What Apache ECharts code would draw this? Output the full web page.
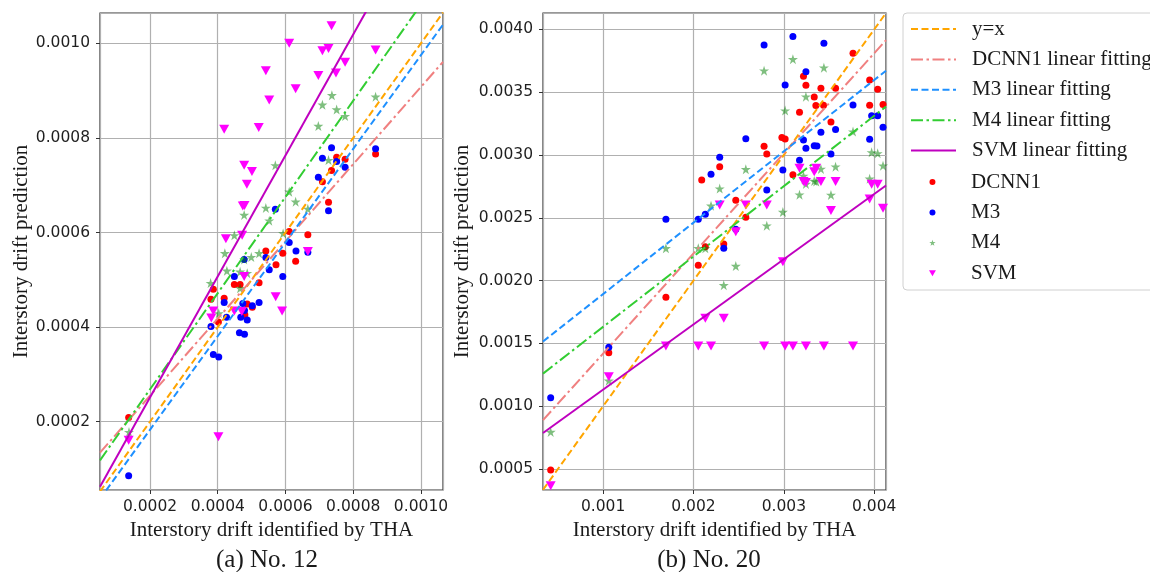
<!DOCTYPE html>
<html><head><meta charset="utf-8">
<script src="https://cdn.jsdelivr.net/npm/echarts@6/dist/echarts.min.js"></script>
<style>html,body{margin:0;padding:0;background:#fff}#c{width:1150px;height:572px}</style>
</head><body><div id="c"></div>
<script>
// ---------- axis ranges ----------
const xRange12 = [0.0000524, 0.001065];
const yRange12 = [0.0000556, 0.001064];
const xRange20 = [0.000335, 0.00413];
const yRange20 = [0.000333, 0.00413];

// ---------- linear fits (slope, intercept) ----------
const fitNames = ['y=x', 'DCNN1 linear fitting', 'M3 linear fitting', 'M4 linear fitting', 'SVM linear fitting'];
const fitSlope12 = [1, 0.816, 0.99, 1.017, 1.279];
const fitIntercept12 = [0, 0.0000917, -0.000015, 0.000065, -0.0000044];
const fitSlope20 = [1, 0.797, 0.568, 0.56, 0.519];
const fitIntercept20 = [0, 0.000622, 0.001325, 0.001072, 0.000613];

// ---------- scatter data: No. 12 ----------
const scatterNames = ['DCNN1', 'M3', 'M4', 'SVM'];
const dcnn1_12 = [[0.000736,0.000731],[0.000751,0.000759],[0.000776,0.000755],[0.000709,0.000707],[0.000727,0.000664],[0.000866,0.000766],[0.000611,0.000602],[0.000666,0.000595],[0.000542,0.000561],[0.000592,0.000556],[0.00063,0.000539],[0.000572,0.000532],[0.000387,0.00048],[0.00038,0.000459],[0.000419,0.000461],[0.000449,0.00049],[0.000466,0.00049],[0.000522,0.000494],[0.000487,0.000449],[0.000502,0.000442],[0.00048,0.000426],[0.000402,0.000411],[0.000137,0.000209]];
const m3_12 = [[0.000736,0.000779],[0.000709,0.000757],[0.000751,0.00075],[0.000776,0.000738],[0.000697,0.000717],[0.000727,0.000646],[0.000866,0.000777],[0.00057,0.000649],[0.000611,0.000579],[0.000631,0.000561],[0.000666,0.000558],[0.000542,0.000547],[0.000552,0.000521],[0.000592,0.000507],[0.000449,0.000507],[0.000478,0.000543],[0.000419,0.000452],[0.000426,0.000421],[0.000474,0.00045],[0.000479,0.000435],[0.000468,0.000421],[0.000487,0.000415],[0.000502,0.000445],[0.000522,0.000452],[0.000464,0.000388],[0.000479,0.000385],[0.000387,0.000342],[0.000403,0.000337],[0.00038,0.000401],[0.000137,0.0000858]];
const m4_12 = [[0.000709,0.00087],[0.000737,0.00089],[0.000751,0.00086],[0.000776,0.000846],[0.000697,0.000825],[0.000866,0.000887],[0.00057,0.000742],[0.000727,0.000753],[0.000611,0.000686],[0.00063,0.000665],[0.000542,0.000652],[0.000552,0.000625],[0.000666,0.00065],[0.000478,0.000637],[0.000449,0.000594],[0.000421,0.000556],[0.000427,0.000519],[0.000478,0.000543],[0.000499,0.000548],[0.000522,0.000556],[0.000593,0.000598],[0.000379,0.000493],[0.000466,0.000517],[0.000487,0.000514],[0.000466,0.000482],[0.000403,0.000429],[0.000138,0.000178]];
const svm_12 = [[0.000419,0.000818],[0.000542,0.000942],[0.000552,0.00088],[0.000521,0.000822],[0.000611,0.0010],[0.00063,0.000904],[0.000736,0.001037],[0.000709,0.000984],[0.000727,0.000989],[0.000776,0.00096],[0.000697,0.000932],[0.000749,0.000937],[0.000866,0.000986],[0.000478,0.000742],[0.000501,0.000729],[0.000486,0.000702],[0.000474,0.000656],[0.000479,0.000657],[0.000424,0.000587],[0.000472,0.000594],[0.000666,0.00056],[0.000478,0.000507],[0.000571,0.000464],[0.00059,0.000434],[0.000387,0.000434],[0.000381,0.000419],[0.000449,0.000434],[0.000471,0.000433],[0.000402,0.000168],[0.000137,0.000161]];

// ---------- scatter data: No. 20 ----------
const dcnn1_20 = [[0.00042,0.000492],[0.001063,0.001426],[0.001695,0.001867],[0.002053,0.002122],[0.002091,0.002801],[0.00229,0.002907],[0.002131,0.00227],[0.002335,0.002291],[0.002468,0.002639],[0.002579,0.002504],[0.002781,0.003069],[0.002811,0.003008],[0.002978,0.003138],[0.003014,0.003127],[0.0031,0.002843],[0.003173,0.00334],[0.003217,0.003627],[0.003244,0.003555],[0.003336,0.003462],[0.003354,0.003393],[0.00341,0.003531],[0.003439,0.003396],[0.003572,0.003531],[0.003521,0.003263],[0.003765,0.00381],[0.003949,0.003597],[0.003949,0.003396],[0.004038,0.003523],[0.004097,0.003401]];
const m3_20 = [[0.00042,0.001068],[0.001063,0.001469],[0.001695,0.002488],[0.002053,0.002488],[0.002131,0.002528],[0.002194,0.002846],[0.00229,0.002982],[0.002335,0.002257],[0.002468,0.002408],[0.002579,0.00313],[0.002781,0.003876],[0.002811,0.002721],[0.003014,0.003557],[0.002989,0.002881],[0.0031,0.003942],[0.003173,0.002958],[0.003217,0.003119],[0.003244,0.003663],[0.003244,0.003053],[0.003336,0.003074],[0.003366,0.003072],[0.00341,0.003181],[0.003443,0.003889],[0.003521,0.003008],[0.003572,0.003202],[0.003765,0.003398],[0.003949,0.003125],[0.003971,0.003313],[0.004038,0.003313],[0.004097,0.00322]];
const m4_20 = [[0.00042,0.000795],[0.001063,0.001203],[0.001695,0.002257],[0.002053,0.002257],[0.002131,0.002257],[0.002194,0.002596],[0.00229,0.002732],[0.002335,0.001963],[0.002468,0.002116],[0.002579,0.002886],[0.002781,0.003671],[0.002811,0.002437],[0.003014,0.003353],[0.002989,0.002546],[0.0031,0.003762],[0.003173,0.002684],[0.003217,0.002833],[0.003244,0.003464],[0.003244,0.002769],[0.003336,0.002793],[0.003358,0.002788],[0.00341,0.002889],[0.003443,0.003695],[0.003521,0.002682],[0.003572,0.002907],[0.003765,0.003186],[0.003949,0.002811],[0.003971,0.003021],[0.004038,0.003013],[0.004097,0.002915]];
const svm_20 = [[0.00042,0.000367],[0.001063,0.001235],[0.001695,0.00148],[0.002053,0.00148],[0.002194,0.00148],[0.002131,0.0017],[0.002335,0.0017],[0.00229,0.002602],[0.002468,0.002389],[0.002579,0.002602],[0.002781,0.00148],[0.002811,0.002602],[0.002989,0.00215],[0.003014,0.00148],[0.0031,0.00148],[0.003173,0.002894],[0.003217,0.002788],[0.003244,0.00278],[0.003244,0.00148],[0.003336,0.002867],[0.003358,0.002894],[0.00341,0.002788],[0.003443,0.00148],[0.003572,0.002788],[0.003521,0.002557],[0.003765,0.00148],[0.003949,0.00265],[0.003971,0.002767],[0.004038,0.002767],[0.004097,0.002576]];

// ---------- styles ----------
const fitColors = ['#ffa500', '#f08080', '#1e90ff', '#32cd32', '#bf00bf'];
const DASH = [7, 3.5];
const DASHDOT = [12, 3.5, 2.5, 3.5];
const fitTypes = [DASH, DASHDOT, DASH, DASHDOT, 'solid'];
const STAR = 'path://M50,0 L61.2,34.5 L97.6,34.5 L68.2,55.9 L79.4,90.5 L50,69.1 L20.6,90.5 L31.8,55.9 L2.4,34.5 L38.8,34.5 Z';
const TRI_DOWN = 'path://M0,0 L10,0 L5,8.66 Z';
const scatterStyle = [
  {color: '#ff0000', symbol: 'circle', size: 7, opacity: 1},
  {color: '#0000ff', symbol: 'circle', size: 7, opacity: 1},
  {color: '#008000', symbol: STAR, size: 10, opacity: 0.5},
  {color: '#ff00ff', symbol: TRI_DOWN, size: [10, 9], opacity: 1}
];

const serif = 'Liberation Serif';
const sans = 'DejaVu Sans';
const textColor = '#1a1a1a';

function makeXAxis(gi, range, fmtDigits) {
  return {
    gridIndex: gi, type: 'value', min: range[0], max: range[1],
    splitNumber: gi === 0 ? 5 : 4,
    minInterval: gi === 0 ? 0.0002 : 0.001, maxInterval: gi === 0 ? 0.0002 : 0.001,
    name: 'Interstory drift identified by THA', nameLocation: 'middle', nameGap: 30,
    nameTextStyle: {fontFamily: serif, fontSize: 21, color: textColor},
    axisLine: {show: false},
    axisTick: {show: true, length: 4, lineStyle: {color: '#333'}},
    axisLabel: {showMinLabel: false, showMaxLabel: false, margin: 9, fontFamily: sans, fontSize: 15.5, color: '#1f1f1f',
      formatter: v => v.toFixed(fmtDigits)},
    splitLine: {show: true, lineStyle: {color: '#b0b0b0', width: 1.2}}
  };
}
function makeYAxis(gi, range, nameGap) {
  return {
    gridIndex: gi, type: 'value', min: range[0], max: range[1],
    splitNumber: gi === 0 ? 5 : 8,
    minInterval: gi === 0 ? 0.0002 : 0.0005, maxInterval: gi === 0 ? 0.0002 : 0.0005,
    name: 'Interstory drift prediction', nameLocation: 'middle', nameGap: nameGap, nameRotate: 90,
    nameTextStyle: {fontFamily: serif, fontSize: 21, color: textColor},
    axisLine: {show: false},
    axisTick: {show: true, length: 4, lineStyle: {color: '#333'}},
    axisLabel: {showMinLabel: false, showMaxLabel: false, margin: 10, fontFamily: sans, fontSize: 15.5, color: '#1f1f1f',
      formatter: v => v.toFixed(4)},
    splitLine: {show: true, lineStyle: {color: '#b0b0b0', width: 1.2}}
  };
}

const series = [];
function addFits(gi, xr, slopes, intercepts) {
  fitNames.forEach((name, i) => {
    series.push({
      name: name, type: 'line', xAxisIndex: gi, yAxisIndex: gi,
      symbol: 'none', clip: true, silent: true,
      lineStyle: {color: fitColors[i], width: 2, type: fitTypes[i]},
      itemStyle: {color: fitColors[i]},
      data: [[xr[0], slopes[i] * xr[0] + intercepts[i]], [xr[1], slopes[i] * xr[1] + intercepts[i]]]
    });
  });
}
function addScatter(gi, sets) {
  sets.forEach((d, i) => {
    const s = scatterStyle[i];
    series.push({
      name: scatterNames[i], type: 'scatter', xAxisIndex: gi, yAxisIndex: gi,
      symbol: s.symbol, symbolSize: s.size,
      itemStyle: {color: s.color, opacity: s.opacity},
      data: d
    });
  });
}
addFits(0, xRange12, fitSlope12, fitIntercept12);
addFits(1, xRange20, fitSlope20, fitIntercept20);
addScatter(0, [dcnn1_12, m3_12, m4_12, svm_12]);
addScatter(1, [dcnn1_20, m3_20, m4_20, svm_20]);

const option = {
  animation: false,
  backgroundColor: '#ffffff',
  grid: [
    {left: 100, top: 13, width: 343, height: 477, show: true, borderColor: '#333', borderWidth: 1.2, backgroundColor: 'transparent'},
    {left: 543, top: 13, width: 343, height: 477, show: true, borderColor: '#333', borderWidth: 1.2, backgroundColor: 'transparent'}
  ],
  xAxis: [makeXAxis(0, xRange12, 4), makeXAxis(1, xRange20, 3)],
  yAxis: [makeYAxis(0, yRange12, 68), makeYAxis(1, yRange20, 70)],
  legend: [
    {
      data: fitNames, orient: 'vertical', left: 910, top: 13.8, padding: 0, itemGap: 0,
      itemWidth: 45, itemHeight: 14, selectedMode: false,
      itemStyle: {opacity: 0},
      lineStyle: {width: 2},
      textStyle: {fontFamily: serif, fontSize: 21, color: textColor, lineHeight: 30.4, padding: [0, 0, 0, 11]}
    },
    {
      data: scatterNames, orient: 'vertical', left: 929, top: 166.8, padding: 0, itemGap: 0,
      itemWidth: 45, itemHeight: 6, selectedMode: false,
      textStyle: {fontFamily: serif, fontSize: 21, color: textColor, lineHeight: 30.4, padding: [0, 0, 0, 11]}
    }
  ],
  graphic: [
    {type: 'rect', z: -10, shape: {x: 903, y: 13, width: 300, height: 277, r: 4}, style: {fill: '#ffffff', stroke: '#d0d0d0', lineWidth: 1}},
    {type: 'text', x: 267, y: 560, style: {text: '(a) No. 12', fontFamily: serif, fontSize: 25, fill: textColor, align: 'center', verticalAlign: 'middle'}},
    {type: 'text', x: 709, y: 560, style: {text: '(b) No. 20', fontFamily: serif, fontSize: 25, fill: textColor, align: 'center', verticalAlign: 'middle'}}
  ],
  series: series
};
const chart = echarts.init(document.getElementById('c'), null, {renderer: 'canvas'});
chart.setOption(option);
</script>
</body></html>
